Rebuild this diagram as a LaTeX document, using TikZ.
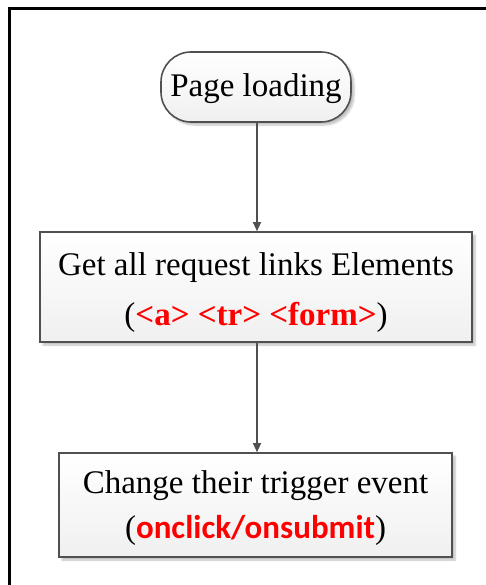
\documentclass[tikz,border=0pt]{standalone}
\usepackage{fontspec}
\setmainfont{Liberation Serif}
\newfontfamily\calfont{Carlito}
\usetikzlibrary{arrows.meta,shadows.blur}
\definecolor{edge}{HTML}{505050}
\definecolor{redtxt}{HTML}{FF0000}
\tikzset{
  flowbox/.style={draw=edge, line width=1.6pt, top color=white, bottom color=black!6,
    blur shadow={shadow xshift=3pt, shadow yshift=-3pt, shadow blur steps=6, shadow opacity=25},
    inner sep=0pt},
  boxtext/.style={align=center, inner sep=0pt, font=\fontsize{33}{50}\selectfont},
  flowarrow/.style={draw=edge, line width=1.2pt, -{Triangle[length=9pt,width=8pt]}},
  frameline/.style={draw=black, line width=3pt}
}
\begin{document}
\begin{tikzpicture}[x=1pt,y=-1pt]
  \useasboundingbox (0,0) rectangle (486,585);
  % partial outer frame: top and left edges only
  \draw[frameline] (486,9) -- (9,9) -- (9,585);
  % flow steps: box shapes
  \node[flowbox, rounded corners=30pt, minimum width=190pt, minimum height=70pt] (load) at (256,87) {};
  \node[flowbox, minimum width=432pt, minimum height=110pt] (get) at (256,287) {};
  \node[flowbox, minimum width=393pt, minimum height=104pt] (change) at (255.5,505) {};
  % box labels
  \node[boxtext] (loadtext) at (256,89) {Page loading};
  \node[boxtext] (gettext) at (256,293)
    {Get all request links Elements\\(\textcolor{redtxt}{\textbf{<a> <tr> <form>}})};
  \node[boxtext, font=\fontsize{33}{45}\selectfont] (changetext) at (255.5,508)
    {Change their trigger event\\({\calfont\bfseries\textcolor{redtxt}{onclick/onsubmit}})};
  % connectors
  \draw[flowarrow] (load.south -| 257,0) -- (get.north -| 257,0);
  \draw[flowarrow] (get.south -| 257,0) -- (change.north -| 257,0);
\end{tikzpicture}
\end{document}
